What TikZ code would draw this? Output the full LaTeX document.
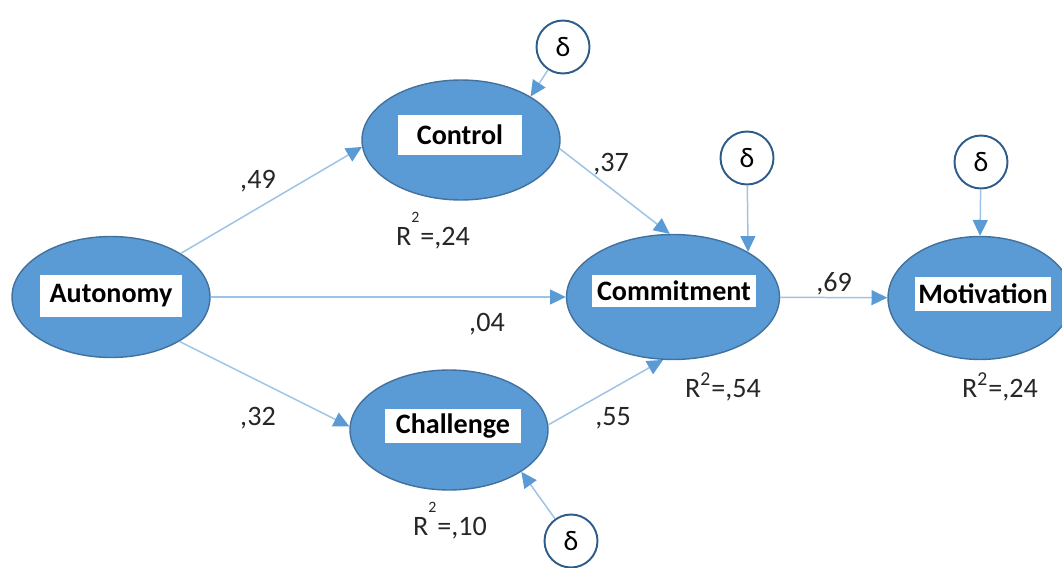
\documentclass[tikz,border=0pt]{standalone}
\usepackage{fontspec}
\setmainfont{Carlito}
\usetikzlibrary{arrows.meta,shapes.geometric}
\definecolor{fillblue}{HTML}{5B9BD5}
\definecolor{edgeblue}{HTML}{41719C}
\definecolor{lineblue}{HTML}{9DC3E6}
\definecolor{tipblue}{HTML}{5B9BD5}
\definecolor{circblue}{HTML}{2E5C8A}
\definecolor{txtgray}{HTML}{262626}
\newcommand{\rsq}[1]{R\textsuperscript{2}=,#1}
\newcommand{\rsqup}[1]{R\raisebox{0.8em}{\small 2}\kern0.5pt=,#1}

\begin{document}
\begin{tikzpicture}[x=0.02cm,y=-0.02cm,
  latent/.style={ellipse,draw=edgeblue,fill=fillblue,line width=0.8pt,minimum width=3.96cm,minimum height=2.4cm},
  namebox/.style={fill=white,font=\fontsize{16}{19}\selectfont\bfseries,inner sep=0pt,minimum height=0.68cm},
  err/.style={circle,draw=circblue,fill=white,line width=1.1pt,minimum size=1.06cm,inner sep=0pt,font=\fontsize{16}{19}\selectfont},
  effect/.style={draw=lineblue,line width=0.85pt,-{Triangle[length=9pt,width=8.5pt,color=tipblue]}},
  coef/.style={font=\fontsize{16}{19}\selectfont,text=txtgray,inner sep=0pt,anchor=base}]
  \useasboundingbox (0,0) rectangle (1062,568);
  \clip (0,0) rectangle (1062,568);
  \node[latent,minimum height=2.42cm] (auto) at (111,297) {};
  \node[latent] (ctrl) at (461,140) {};
  \node[latent,minimum width=4.26cm,minimum height=2.5cm] (commit) at (673,297) {};
  \node[latent] (chal) at (449,430) {};
  \node[latent,minimum width=3.68cm,minimum height=2.46cm] (motiv) at (980,298) {};
  \node[namebox,minimum width=2.84cm,minimum height=0.84cm] (auto-t) at (111,296) {Autonomy};
  \node[namebox,minimum width=2.48cm,minimum height=0.8cm] (ctrl-t) at (460,135) {Control};
  \node[namebox,minimum width=3.28cm,minimum height=0.66cm] (commit-t) at (674,291) {Commitment};
  \node[namebox,minimum width=2.74cm] (chal-t) at (453,426) {Challenge};
  \node[namebox,minimum width=2.74cm] (motiv-t) at (983,294) {Motivation};
  \node[err] (d1) at (563,47) {δ};
  \node[err] (d2) at (747,158) {δ};
  \node[err] (d3) at (981,162) {δ};
  \node[err] (d4) at (571,541) {δ};
  \draw[effect] (auto.32) -- (ctrl.184);
  \draw[effect] (auto) -- (commit);
  \draw[effect] (auto.-33) -- (chal.178);
  \draw[effect] (ctrl.-5) -- (commit.93);
  \draw[effect] (chal.3) -- (commit.-99);
  \draw[effect] (commit) -- (motiv);
  \draw[effect] (d1) -- (ctrl.32);
  \draw[effect] (d2) -- (commit.31);
  \draw[effect] (d3) -- (motiv.north);
  \draw[effect] (d4) -- (chal.-30);
  \node[coef] (c1) at (258,188) {,49};
  \node[coef] (c2) at (611,171) {,37};
  \node[coef] (c3) at (487,331) {,04};
  \node[coef] (c4) at (258,425) {,32};
  \node[coef] (c5) at (613,425) {,55};
  \node[coef] (c6) at (834,291) {,69};
  \node[coef] (r1) at (433,245) {\rsqup{24}};
  \node[coef] (r2) at (723,397) {\rsq{54}};
  \node[coef] (r3) at (1000,397) {\rsq{24}};
  \node[coef] (r4) at (450,535) {\rsqup{10}};
\end{tikzpicture}
\end{document}
